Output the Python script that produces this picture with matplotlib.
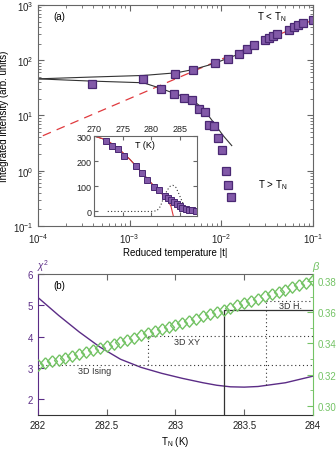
import numpy as np
import matplotlib.pyplot as plt

plt.rcParams['font.family'] = ['Liberation Sans', 'DejaVu Sans']
plt.rcParams['mathtext.fontset'] = 'custom'
plt.rcParams['mathtext.rm'] = 'Liberation Sans'
plt.rcParams['mathtext.it'] = 'Liberation Sans:italic'
plt.rcParams['font.size'] = 7

# ---- panel (a): integrated intensity vs reduced temperature ----
t_below = [3.86e-4, 1.41e-3, 3.13e-3, 4.94e-3, 8.59e-3, 1.19e-2, 1.57e-2, 1.92e-2,
           2.29e-2, 2.99e-2, 3.31e-2, 3.69e-2, 4.02e-2, 5.47e-2, 6.25e-2, 6.91e-2,
           7.73e-2, 1.0e-1]
I_below = [37.5, 46.1, 55.2, 65.2, 89.7, 104.7, 132, 158, 187, 233, 257, 276, 296,
           358, 401, 436, 473, 543]
t_above = [2.18e-3, 3.05e-3, 3.95e-3, 4.82e-3, 5.75e-3, 6.64e-3, 7.40e-3, 8.38e-3,
           9.27e-3, 1.02e-2, 1.12e-2, 1.19e-2, 1.27e-2]
I_above = [29.6, 24.0, 20.7, 18.7, 12.9, 11.4, 6.82, 6.41, 3.89, 2.41, 1.0, 0.55, 0.34]

# fitted curves
fit_up_t = [1e-4, 3.7e-4, 1.41e-3, 3.26e-3, 4.94e-3, 8.17e-3, 1.47e-2]
fit_up_I = [46, 49.5, 53, 59.3, 67.9, 86, 125]
fit_lo_t = [1e-4, 3.7e-4, 1.41e-3, 2.14e-3, 2.99e-3, 4.19e-3, 5.16e-3, 6.35e-3,
            8.17e-3, 1.05e-2, 1.30e-2]
fit_lo_I = [46, 42, 39.1, 31.3, 25.5, 21.0, 17.5, 13.3, 7.6, 4.3, 2.85]
pow_t = [1.13e-4, 1.0e-1]
pow_I = [4.3, 535]

# inset: intensity vs T
T_in = [272.16, 273.22, 274.21, 275.22, 277.29, 278.35, 279.29, 280.41, 281.42,
        282.48, 282.92, 283.49, 283.95, 284.42, 284.96, 285.43, 286.02, 286.6,
        287.2, 287.79]
I_in = [281.6, 261.6, 246.8, 221.6, 181.6, 153.6, 126.8, 98.8, 84.8, 60.8, 54.8,
        46.8, 37.6, 28, 20, 14.8, 9.6, 6.8, 4, 2.8]
red_T = [270.0, 272.16, 274.16, 276.28, 278.35, 280.41, 281.42, 282.48, 283.01,
         283.45, 283.84]
red_I = [300, 284.8, 252.8, 206.8, 154.8, 102.8, 80.8, 54.8, 38.8, 20.8, -16]
red2_T = [284.6, 285.5, 286.5, 287.5]
red2_I = [13, 8, 5, 3]
blk_T = [270.0, 272.16, 274.16, 276.28, 278.35, 280.41, 281.42, 282.48, 283.0,
         283.5, 284.0, 284.5, 285.0, 285.5, 286.0, 287.0, 288.0]
blk_I = [300, 284, 252, 207, 155, 103, 81, 58, 48, 39, 29, 20, 14, 9, 6, 3, 2]
dot_T = [272.4, 276, 280, 281, 281.6, 282.2, 282.8, 283.3, 283.8, 284.3, 284.8,
         285.3, 285.8, 286.4, 287]
dot_I = [0, 0, 0, 3, 20, 57, 85, 100, 104, 96, 72, 45, 20, 5, 0]

# ---- panel (b): chi^2 and beta vs T_N ----
TN_chi = [282.0, 282.15, 282.3, 282.45, 282.6, 282.75, 282.9, 283.05, 283.2,
          283.3, 283.4, 283.5, 283.6, 283.8, 284.0]
chi2 = [5.25, 4.68, 4.15, 3.67, 3.28, 3.02, 2.83, 2.67, 2.53, 2.45, 2.40, 2.39,
        2.41, 2.53, 2.74]
beta = [0.3260, 0.3272, 0.3285, 0.3297, 0.3310, 0.3322, 0.3335, 0.3348, 0.3360,
        0.3373, 0.3386, 0.3399, 0.3412, 0.3425, 0.3438, 0.3452, 0.3465, 0.3478,
        0.3492, 0.3505, 0.3519, 0.3532, 0.3546, 0.3560, 0.3574, 0.3588, 0.3602,
        0.3616, 0.3630, 0.3644, 0.3658, 0.3672, 0.3687, 0.3701, 0.3716, 0.3730,
        0.3745, 0.3760, 0.3774, 0.3789, 0.3804]
TN_beta = np.linspace(282, 284, len(beta))
beta_ising, beta_xy, beta_heis = 0.326, 0.345, 0.367
T_ising, T_xy, T_heis = 282.0, 282.8, 283.66
T_best, beta_best = 283.355, 0.3617

purple = '#5b2c86'
sq_face = '#8259a8'
sq_edge = '#4a2873'
green = '#74c365'
red = '#e03a3e'
dark = '#333333'
spine = '#666666'

fig = plt.figure(figsize=(3.36, 4.52), dpi=100)

ax = fig.add_axes([0.113, 0.4978, 0.8185, 0.489])
ax.set_xscale('log')
ax.set_yscale('log')
ax.plot(pow_t, pow_I, color=red, lw=0.9, dashes=(7, 5))
ax.plot(fit_up_t, fit_up_I, color=dark, lw=0.8)
ax.plot(fit_lo_t, fit_lo_I, color=dark, lw=0.8)
ax.plot(t_below, I_below, 's', ms=5.4, mfc=sq_face, mec=sq_edge, mew=0.9)
ax.plot(t_above, I_above, 's', ms=5.4, mfc=sq_face, mec=sq_edge, mew=0.9)
ax.set_xlim(1e-4, 1e-1)
ax.set_ylim(1e-1, 1e3)
ax.tick_params(which='both', direction='in', top=True, right=True, colors=spine,
               labelcolor='#222222', labelsize=7)
ax.tick_params(which='major', length=4)
ax.tick_params(which='minor', length=2)
for s in ax.spines.values():
    s.set_color(spine)
ax.set_xlabel('Reduced temperature |t|', labelpad=2)
ax.set_ylabel('Integrated intensity (arb. units)', labelpad=3)
ax.text(0.055, 0.95, '(a)', transform=ax.transAxes, va='center', fontsize=7)
ax.text(0.85, 0.95, 'T < T$_\\mathrm{N}$', transform=ax.transAxes, ha='center',
        va='center', fontsize=7)
ax.text(0.855, 0.19, 'T > T$_\\mathrm{N}$', transform=ax.transAxes, ha='center',
        va='center', fontsize=7)

ia = fig.add_axes([0.2798, 0.5199, 0.3065, 0.177])
ia.plot(dot_T, dot_I, color=dark, lw=0.8, ls=(0, (1, 2)))
ia.plot(blk_T, blk_I, color=dark, lw=0.7)
ia.plot(red_T, red_I, color=red, lw=0.8)
ia.plot(red2_T, red2_I, color=red, lw=0.8)
ia.plot(T_in, I_in, 's', ms=3.8, mfc=sq_face, mec=sq_edge, mew=0.7)
ia.set_xlim(270, 288)
ia.set_ylim(-18, 300)
ia.set_xticks([270, 275, 280, 285])
ia.set_yticks([0, 100, 200, 300])
ia.tick_params(direction='in', top=True, right=True, labeltop=True,
               labelbottom=False, colors=spine, labelcolor='#222222',
               labelsize=6.5, length=3, pad=2)
for s in ia.spines.values():
    s.set_color(spine)
ia.text(0.495, 0.9, 'T (K)', transform=ia.transAxes, ha='center', va='center',
        fontsize=6.5)

bx = fig.add_axes([0.113, 0.0796, 0.8185, 0.312])
bx.plot(TN_chi, chi2, color=purple, lw=1.0)
bx.set_xlim(282, 284)
bx.set_ylim(1.5, 6)
bx.set_yticks([2, 3, 4, 5, 6])
bx.set_xticks([282, 282.5, 283, 283.5, 284])
bx.set_xticklabels(['282', '282.5', '283', '283.5', '284'])
bx.tick_params(axis='x', direction='in', top=True, colors=spine,
               labelcolor='#222222', labelsize=7, length=4)
bx.tick_params(axis='y', direction='in', colors=purple, labelsize=7, length=4)
bx.spines['top'].set_color(spine)
bx.spines['bottom'].set_color(dark)
bx.spines['left'].set_color(purple)
bx.spines['right'].set_visible(False)
bx.set_xlabel('T$_\\mathrm{N}$ (K)', labelpad=3)
bx.text(0.055, 0.922, '(b)', transform=bx.transAxes, va='center', fontsize=7)
bx.text(0.018, 1.064, '$\\chi^2$', transform=bx.transAxes, va='center',
        ha='center', color=purple, fontsize=7)

bx2 = bx.twinx()
ylo, yhi = 0.2942, 0.3845
bx2.set_ylim(ylo, yhi)
bx2.set_position(bx.get_position())


def b2c(b):
    return 1.5 + (b - ylo) / (yhi - ylo) * 4.5


dot = dict(color=dark, lw=0.8, ls=(0, (1, 2.5)))
bx2.plot([T_ising, 284], [beta_ising, beta_ising], **dot)
bx2.plot([T_xy, 284], [beta_xy, beta_xy], **dot)
bx2.plot([T_xy, T_xy], [beta_ising, beta_xy], **dot)
bx2.plot([T_heis, 284], [beta_heis, beta_heis], **dot)
bx.plot([T_heis, T_heis], [2.45, b2c(beta_heis)], **dot)
bx2.plot([T_best, T_best, 284], [ylo, beta_best, beta_best], color=dark, lw=0.9)
bx2.plot(TN_beta, beta, ls='none',
         marker=[(0, 1), (0.87, 0), (0, -1), (-0.87, 0), (0, 1)],
         ms=8.2, mfc='none', mec=green, mew=1.0)
bx2.text(282.415, 0.3230, '3D Ising', ha='center', va='center', fontsize=6.5,
         color=dark)
bx2.text(283.084, 0.3412, '3D XY', ha='center', va='center', fontsize=6.5,
         color=dark)
bx2.text(283.833, 0.3645, '3D H.', ha='center', va='center', fontsize=6.5,
         color=dark)
bx2.set_yticks([0.30, 0.32, 0.34, 0.36, 0.38])
bx2.set_yticks([0.31, 0.33, 0.35, 0.37], minor=True)
bx2.set_yticklabels(['0.30', '0.32', '0.34', '0.36', '0.38'])
bx2.tick_params(which='both', direction='in', colors=green, labelsize=7)
bx2.tick_params(which='major', length=4)
bx2.tick_params(which='minor', length=2)
for k in ['top', 'bottom', 'left']:
    bx2.spines[k].set_visible(False)
bx2.spines['right'].set_color(green)
bx2.text(1.011, 1.057, '$\\beta$', transform=bx2.transAxes, va='center',
         ha='center', color=green, fontsize=8)

fig.savefig('out.png', dpi=100)
